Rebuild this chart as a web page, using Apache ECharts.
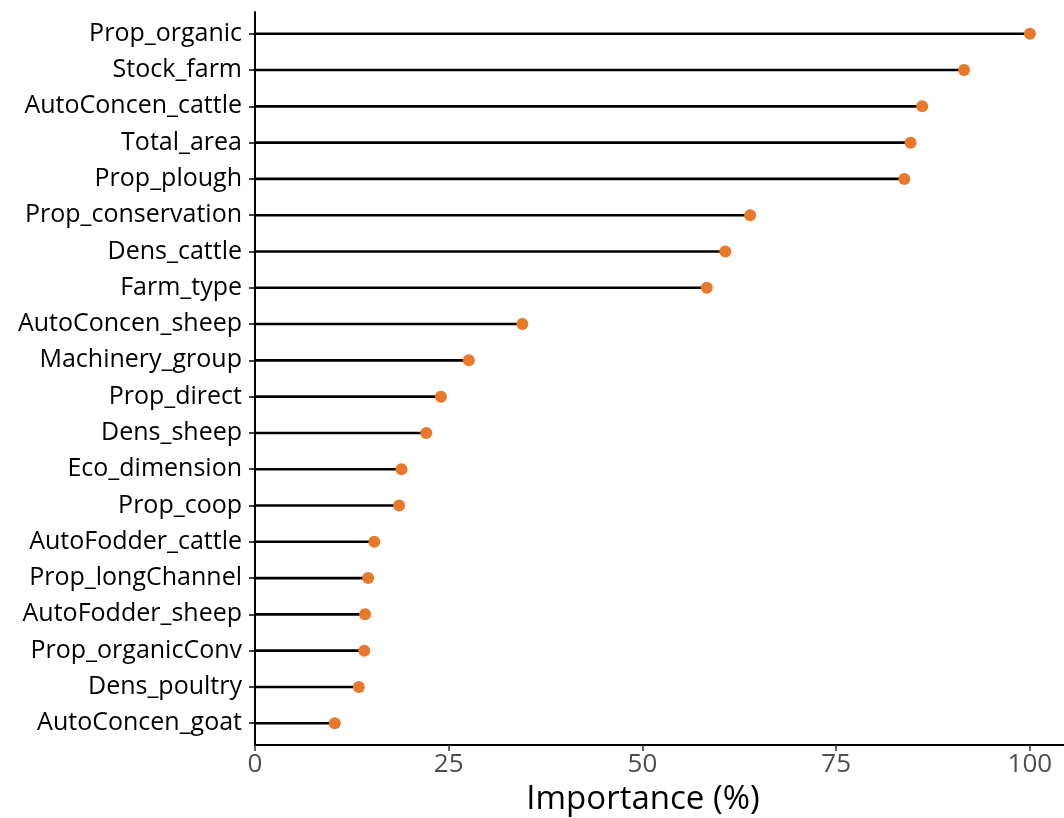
<!DOCTYPE html>
<html>
<head>
<meta charset="utf-8">
<script src="https://cdn.jsdelivr.net/npm/echarts@6/dist/echarts.min.js"></script>
<style>html,body{margin:0;padding:0;background:#fff;overflow:hidden}#c{width:1064px;height:818px}</style>
</head>
<body>
<div id="c"></div>
<script>
const categories = ["Prop_organic","Stock_farm","AutoConcen_cattle","Total_area","Prop_plough","Prop_conservation","Dens_cattle","Farm_type","AutoConcen_sheep","Machinery_group","Prop_direct","Dens_sheep","Eco_dimension","Prop_coop","AutoFodder_cattle","Prop_longChannel","AutoFodder_sheep","Prop_organicConv","Dens_poultry","AutoConcen_goat"];
const importance = [100,91.5,86.1,84.6,83.8,63.9,60.7,58.3,34.5,27.6,24.0,22.1,18.9,18.6,15.4,14.6,14.2,14.1,13.4,10.3];
const xTicks = [0,25,50,75,100];
const xTitle = "Importance (%)";

const positions = categories.map((c,i)=>i+1);
const pts = importance.map((v,i)=>[v, positions[i]]);
const FONT = "'Open Sans', 'Noto Sans', sans-serif";

const chart = echarts.init(document.getElementById('c'), null, {renderer:'canvas'});
chart.setOption({
  animation:false,
  backgroundColor:'#fff',
  grid:{left:255, right:0, top:12, bottom:73, containLabel:false, outerBoundsMode:'none'},
  xAxis:{
    type:'value', min:0, max:104.4,
    axisLine:{show:true, lineStyle:{color:'#000', width:2}},
    axisTick:{show:true, length:6, customValues:xTicks, lineStyle:{color:'#333', width:1.5}},
    axisLabel:{customValues:xTicks, color:'#4D4D4D', fontSize:26, fontFamily:FONT, margin:7},
    splitLine:{show:false},
    name:xTitle, nameLocation:'middle', nameGap:37,
    nameTextStyle:{color:'#000', fontSize:33, fontFamily:FONT, padding:[0,33,0,0]}
  },
  yAxis:{
    type:'value', min:0.4, max:20.6, inverse:true,
    axisLine:{show:true, lineStyle:{color:'#000', width:2}},
    axisTick:{show:true, length:6, customValues:positions, lineStyle:{color:'#000', width:1.5}},
    axisLabel:{customValues:positions, color:'#000', fontSize:25, fontFamily:FONT, margin:13,
      formatter:(v)=>categories[Math.round(v)-1] || ''},
    splitLine:{show:false}
  },
  series:[
    {
      type:'custom',
      data:pts,
      renderItem:(params, api)=>{
        const s = api.coord([0, api.value(1)]);
        const e = api.coord([api.value(0), api.value(1)]);
        return {type:'line', shape:{x1:s[0], y1:s[1], x2:e[0], y2:e[1]},
          style:{stroke:'#000', lineWidth:2.6}};
      },
      encode:{x:0, y:1},
      z:2
    },
    {
      type:'scatter',
      data:pts,
      symbol:'circle', symbolSize:12,
      itemStyle:{color:'#E8792B', opacity:1},
      z:3
    }
  ]
});
</script>
</body>
</html>
